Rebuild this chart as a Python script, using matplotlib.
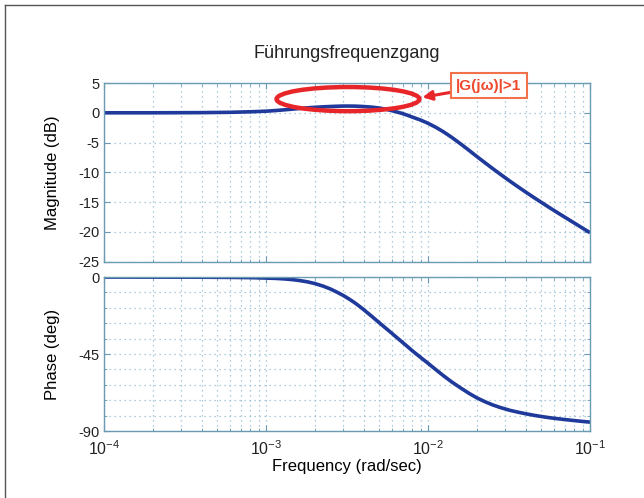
import matplotlib.pyplot as plt
from matplotlib.patches import Ellipse
from matplotlib.ticker import LogLocator, MultipleLocator, NullFormatter
from matplotlib.lines import Line2D

plt.rcParams['font.family'] = ['Liberation Sans', 'DejaVu Sans']
plt.rcParams['mathtext.fontset'] = 'custom'
plt.rcParams['mathtext.rm'] = 'Liberation Sans'
plt.rcParams['mathtext.it'] = 'Liberation Sans'

# Führungsfrequenzgang: Stützstellen (rad/sec), Betrag (dB), Phase (deg)
omega = [1e-4, 2e-4, 4e-4, 6e-4, 8e-4, 1e-3, 1.15e-3, 1.3e-3, 1.45e-3, 1.6e-3,
         1.8e-3, 2e-3, 2.25e-3, 2.5e-3, 2.75e-3, 3e-3, 3.25e-3, 3.5e-3, 3.75e-3, 4e-3,
         4.5e-3, 5e-3, 5.5e-3, 6e-3, 6.5e-3, 7e-3, 7.5e-3, 8e-3, 9e-3, 1e-2,
         1.12e-2, 1.25e-2, 1.4e-2, 1.6e-2, 1.8e-2, 2e-2, 2.25e-2, 2.5e-2, 2.8e-2, 3.2e-2,
         3.6e-2, 4e-2, 4.5e-2, 5e-2, 5.6e-2, 6.3e-2, 7e-2, 8e-2, 9e-2, 1e-1]
mag_db = [0.0, 0.0, 0.03, 0.08, 0.17, 0.27, 0.38, 0.5, 0.61, 0.72,
          0.83, 0.92, 1.0, 1.06, 1.1, 1.13, 1.13, 1.12, 1.09, 1.05,
          0.95, 0.8, 0.6, 0.35, 0.1, -0.15, -0.43, -0.72, -1.22, -1.76,
          -2.45, -3.22, -4.12, -5.28, -6.35, -7.33, -8.4, -9.34, -10.33, -11.47,
          -12.44, -13.29, -14.22, -15.03, -15.89, -16.77, -17.54, -18.51, -19.37, -20.13]
phase_deg = [0.0, -0.05, -0.1, -0.2, -0.35, -0.6, -0.8, -1.1, -1.5, -2.0,
             -2.8, -3.8, -5.3, -7.0, -8.9, -10.8, -12.8, -14.8, -16.9, -19.0,
             -23.0, -26.7, -30.0, -33.0, -35.8, -38.4, -40.8, -43.1, -47.0, -50.4,
             -54.2, -57.8, -61.3, -65.0, -68.1, -70.6, -72.9, -74.7, -76.3, -77.9,
             -79.0, -79.9, -80.8, -81.5, -82.2, -82.8, -83.3, -83.9, -84.4, -84.8]

mag_ticks = [5, 0, -5, -10, -15, -20, -25]
phase_ticks = [0, -45, -90]
freq_ticks = [1e-4, 1e-3, 1e-2, 1e-1]

line_col = '#1f3a9a'
frame_col = '#6a9bb3'
grid_col = '#93bcd2'

fig = plt.figure(figsize=(6.44, 4.98), dpi=100)
ax1 = fig.add_axes([0.1615, 0.4745, 0.7547, 0.3588])
ax2 = fig.add_axes([0.1615, 0.1345, 0.7547, 0.3092])

for ax in (ax1, ax2):
    ax.set_xscale('log')
    ax.set_xlim(1e-4, 1e-1)
    ax.set_xticks(freq_ticks)
    ax.xaxis.set_minor_locator(LogLocator(base=10, subs=range(2, 10)))
    ax.xaxis.set_minor_formatter(NullFormatter())
    ax.grid(True, which='both', color=grid_col, linestyle=(0, (1, 3)), linewidth=0.9)
    ax.tick_params(which='both', direction='in', top=True, right=True,
                   color=frame_col, labelsize=10.5, labelcolor='#222222')
    ax.tick_params(which='major', length=4)
    ax.tick_params(which='minor', length=2)
    for s in ax.spines.values():
        s.set_color(frame_col)
        s.set_linewidth(1.0)

# Betragsgang
ax1.plot(omega, mag_db, color=line_col, lw=2.6, solid_capstyle='butt')
ax1.set_ylim(-25, 5)
ax1.set_yticks(mag_ticks)
ax1.set_yticklabels([str(t) for t in mag_ticks])
ax1.tick_params(axis='x', labelbottom=False)
ax1.set_ylabel('Magnitude (dB)', fontsize=12)
ax1.yaxis.set_label_coords(-0.09, 0.5)
ax1.set_title('Führungsfrequenzgang', fontsize=13, pad=18, color='#222222')

# Phasengang
ax2.plot(omega, phase_deg, color=line_col, lw=2.6, solid_capstyle='butt')
ax2.set_ylim(-90, 0)
ax2.set_yticks(phase_ticks)
ax2.set_yticklabels([str(t) for t in phase_ticks])
ax2.yaxis.set_minor_locator(MultipleLocator(9))
ax2.set_ylabel('Phase (deg)', fontsize=12)
ax2.yaxis.set_label_coords(-0.09, 0.5)
ax2.set_xlabel('Frequency (rad/sec)', fontsize=12, labelpad=1)
ax2.set_xticklabels(['$10^{-4}$', '$10^{-3}$', '$10^{-2}$', '$10^{-1}$'])
ax2.tick_params(axis='x', pad=6, labelsize=11.5)

# Markierung der Resonanzüberhöhung
ell = Ellipse((0.502, 0.91), 0.294, 0.135, transform=ax1.transAxes,
              fill=False, edgecolor='#e8262a', lw=3.2, zorder=5)
ax1.add_patch(ell)
ax1.annotate('|G(jω)|>1', xy=(0.655, 0.92), xycoords='axes fraction',
             xytext=(0.792, 0.985), textcoords='axes fraction',
             ha='center', va='center', fontsize=11, color='#ee4a2e',
             fontweight='bold', annotation_clip=False,
             bbox=dict(boxstyle='square,pad=0.35', fc='white', ec='#f2704a', lw=1.5),
             arrowprops=dict(arrowstyle='-|>', color='#e8262a', lw=2.2,
                             mutation_scale=14, shrinkA=0, shrinkB=0))

# Rahmen links und oben
fig.add_artist(Line2D([5 / 644, 5 / 644], [0, 1 - 5 / 498], color='#555555', lw=1.0))
fig.add_artist(Line2D([5 / 644, 1], [1 - 5 / 498, 1 - 5 / 498], color='#555555', lw=1.0))

fig.savefig('out.png', dpi=100)
